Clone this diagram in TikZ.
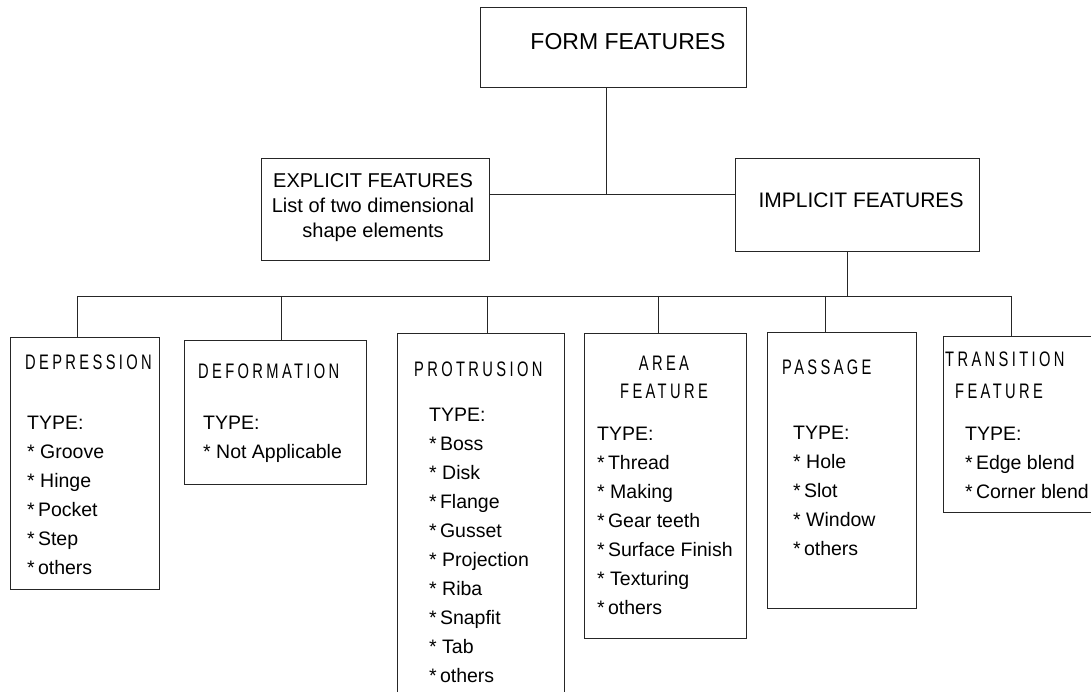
\documentclass[tikz,border=0pt]{standalone}
\usepackage{fontspec}
\setmainfont{Liberation Sans}
\newfontfamily\headfont[FakeStretch=0.7,LetterSpace=16]{Liberation Sans}
\usepackage{tikz}
\tikzstyle{box} = [rectangle, draw=black!85, line width=1pt, inner sep=0pt]
\tikzstyle{link} = [draw=black!85, line width=0.9pt]
\tikzstyle{toptext} = [inner sep=0pt, align=center, font=\fontsize{20}{25}\selectfont]
\tikzstyle{head} = [inner sep=0pt, anchor=north west, align=left, font=\fontsize{21}{30}\headfont]
\tikzstyle{typelist} = [inner sep=0pt, anchor=north west, align=left, font=\fontsize{19.5}{29}\selectfont]
\begin{document}
\begin{tikzpicture}[x=1pt, y=-1pt]
      \useasboundingbox (0,0) rectangle (1091,692);
      \clip (0,0) rectangle (1091,692);
      \node (form) [box, minimum width=266pt, minimum height=80pt] at (613,48) {};
      \node (formt) [toptext, font=\fontsize{23}{27}\selectfont] at (628,42) {FORM FEATURES};
      \node (expl) [box, minimum width=228pt, minimum height=102pt] at (375,210) {};
      \node (explt) [toptext] at (373,208) {EXPLICIT FEATURES\\List of two dimensional\\shape elements};
      \node (impl) [box, minimum width=244pt, minimum height=93pt] at (857,205.5) {};
      \node (implt) [toptext, font=\fontsize{21}{25}\selectfont] at (861,200) {IMPLICIT FEATURES};
      \coordinate (j1) at (606,194);
      \draw [link] (expl.east |- j1) -- (impl.west |- j1);
      \draw [link] (form.south -| j1) -- (j1);
      \coordinate (j2) at (847,296);
      \draw [link] (impl.south -| j2) -- (j2);
      \node (dep) [box, minimum width=149pt, minimum height=252pt] at (84.5,463) {};
      \node (deph) [head] at (25,355) {DEPRESSION};
      \node (depl) [typelist] at (27,416) {TYPE:\\* Groove\\* Hinge\\*\,Pocket\\*\,Step\\*\,others};
      \node (def) [box, minimum width=182pt, minimum height=144pt] at (275,412) {};
      \node (defh) [head] at (198,364) {DEFORMATION};
      \node (defl) [typelist] at (203,416) {TYPE:\\* Not Applicable};
      \node (pro) [box, minimum width=167pt, minimum height=387pt] at (480.5,526.5) {};
      \node (proh) [head] at (414,362) {PROTRUSION};
      \node (prol) [typelist] at (429,408) {TYPE:\\*\,Boss\\* Disk\\*\,Flange\\*\,Gusset\\* Projection\\* Riba\\*\,Snapfit\\* Tab\\*\,others};
      \node (area) [box, minimum width=162pt, minimum height=305pt] at (665,485.5) {};
      \node (areah) [head, anchor=north, align=center, font=\fontsize{21}{28}\headfont] at (664,356) {AREA\\FEATURE};
      \node (areal) [typelist] at (597,427) {TYPE:\\*\,Thread\\* Making\\*\,Gear teeth\\*\,Surface Finish\\* Texturing\\*\,others};
      \node (pas) [box, minimum width=149pt, minimum height=276pt] at (841.5,470) {};
      \node (pash) [head] at (782,360) {PASSAGE};
      \node (pasl) [typelist] at (793,426) {TYPE:\\* Hole\\*\,Slot\\* Window\\*\,others};
      \node (trans) [box, minimum width=168pt, minimum height=176pt] at (1027,424) {};
      \node (transh) [head, font=\fontsize{21}{32}\headfont] at (945,352) {TRANSITION\\\hspace*{10pt}FEATURE};
      \node (transl) [typelist] at (965,427) {TYPE:\\*\,Edge blend\\*\,Corner blend};
      \coordinate (b1) at (77,296);
      \coordinate (b2) at (281,296);
      \coordinate (b3) at (487,296);
      \coordinate (b4) at (658,296);
      \coordinate (b5) at (825,296);
      \coordinate (b6) at (1011,296);
      \draw [link] (b1) -- (b6);
      \draw [link] (b1) -- (dep.north -| b1);
      \draw [link] (b2) -- (def.north -| b2);
      \draw [link] (b3) -- (pro.north -| b3);
      \draw [link] (b4) -- (area.north -| b4);
      \draw [link] (b5) -- (pas.north -| b5);
      \draw [link] (b6) -- (trans.north -| b6);
    \end{tikzpicture}
\end{document}
